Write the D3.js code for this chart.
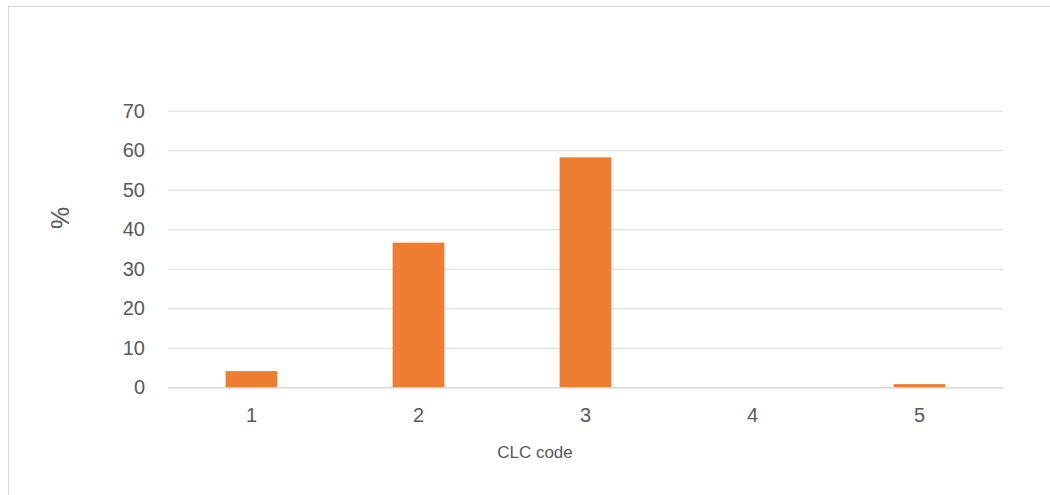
<!DOCTYPE html>
<html>
<head>
<meta charset="utf-8">
<script src="https://cdn.jsdelivr.net/npm/d3@7"></script>
<style>
  html, body { margin: 0; padding: 0; background: #fff; }
  svg { display: block; font-family: "Liberation Sans", Arial, sans-serif; }
</style>
</head>
<body>
<svg id="chart" width="1050" height="495"></svg>
<script>
// Share of area by CLC code (%)
const categories = ["1", "2", "3", "4", "5"];
const values = [4.1, 36.6, 58.2, 0, 0.8];
const yTicks = [0, 10, 20, 30, 40, 50, 60, 70];

const svg = d3.select("#chart");
const W = 1050, H = 495;
const plot = { left: 168, right: 1003, top: 110.7, bottom: 387.3 };
const textColor = "#595959";
const gridColor = "#d9d9d9";
const barColor = "#ed7d31";

// Outer chart frame
svg.append("rect")
  .attr("x", 8.5).attr("y", 6.5)
  .attr("width", W + 10).attr("height", H + 10)
  .attr("fill", "#fff")
  .attr("stroke", gridColor).attr("stroke-width", 1);

const x = d3.scaleBand()
  .domain(categories)
  .range([plot.left, plot.right])
  .paddingInner(0.69).paddingOuter(0.345);

const y = d3.scaleLinear()
  .domain([0, 70])
  .range([plot.bottom, plot.top]);

// Horizontal gridlines and left tick labels
const yAxis = d3.axisLeft(y)
  .tickValues(yTicks)
  .tickSize(-(plot.right - plot.left))
  .tickPadding(23)
  .tickFormat(d3.format("d"));

const gy = svg.append("g")
  .attr("transform", `translate(${plot.left},0)`)
  .call(yAxis);
gy.select(".domain").remove();
gy.selectAll(".tick line").attr("stroke", gridColor).attr("stroke-width", 1);
gy.selectAll(".tick text")
  .attr("fill", textColor)
  .style("font-size", "20px")
  .attr("font-family", "Liberation Sans, Arial, sans-serif");

// Bars
svg.append("g").selectAll("rect")
  .data(categories.map((c, i) => ({ c, v: values[i] })))
  .join("rect")
  .attr("x", d => x(d.c))
  .attr("width", x.bandwidth())
  .attr("y", d => y(d.v))
  .attr("height", d => y(0) - y(d.v))
  .attr("fill", barColor);

// Category axis
const xAxis = d3.axisBottom(x).tickSize(0).tickPadding(21);
const gx = svg.append("g")
  .attr("transform", `translate(0,${plot.bottom})`)
  .call(xAxis);
gx.select(".domain").attr("stroke", gridColor).attr("stroke-width", 1.2);
gx.selectAll(".tick text")
  .attr("fill", textColor)
  .style("font-size", "20px")
  .attr("font-family", "Liberation Sans, Arial, sans-serif");

// Axis titles
svg.append("text")
  .attr("x", 535).attr("y", 458)
  .attr("text-anchor", "middle")
  .attr("fill", textColor)
  .style("font-size", "17px")
  .text("CLC code");

svg.append("text")
  .attr("transform", "translate(69,218) rotate(-90)")
  .attr("text-anchor", "middle")
  .attr("fill", textColor)
  .style("font-size", "25px")
  .text("%");
</script>
</body>
</html>
